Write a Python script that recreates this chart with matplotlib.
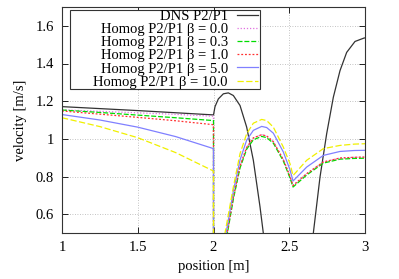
import matplotlib
matplotlib.use("Agg")
import matplotlib.pyplot as plt
from matplotlib.patches import Rectangle

plt.rcParams.update({"font.family": ["Liberation Serif", "DejaVu Serif"], "font.size": 10.5})

# DNS reference
dns_x = [1.0, 1.5, 2.0, 2.01, 2.032, 2.065, 2.098, 2.131, 2.175, 2.219, 2.263, 2.307, 2.329,
         2.36, 2.5, 2.63, 2.659, 2.703, 2.747, 2.791, 2.835, 2.879, 2.934, 2.993, 3.0]
dns_y = [1.171, 1.150, 1.127, 1.171, 1.212, 1.239, 1.244, 1.230, 1.177, 1.062, 0.886, 0.639, 0.498,
         0.35, 0.10, 0.35, 0.500, 0.797, 1.027, 1.221, 1.362, 1.459, 1.517, 1.535, 1.536]

# homogenised models: left part, drop at x=2, then right part
hx = [1.0, 1.25, 1.5, 1.75, 2.0, 2.0, None, 2.131, 2.175, 2.219, 2.263, 2.318, 2.351, 2.395,
      2.461, 2.505, 2.525, 2.615, 2.725, 2.835, 2.93, 3.0]

b00 = [1.154, 1.146, 1.138, 1.130, 1.120, 0.40, 0.50, 0.690, 0.855, 0.955, 1.005, 1.022, 1.015, 0.985,
       0.890, 0.800, 0.752, 0.815, 0.877, 0.898, 0.902, 0.903]
b03 = [1.153, 1.140, 1.126, 1.112, 1.097, 0.40, 0.50, 0.680, 0.845, 0.945, 0.995, 1.013, 1.006, 0.977,
       0.882, 0.792, 0.744, 0.808, 0.871, 0.892, 0.896, 0.897]
b10 = [1.148, 1.131, 1.114, 1.096, 1.075, 0.40, 0.50, 0.690, 0.855, 0.955, 1.005, 1.022, 1.015, 0.985,
       0.890, 0.800, 0.752, 0.815, 0.877, 0.898, 0.902, 0.903]
b50 = [1.129, 1.100, 1.062, 1.012, 0.948, 0.40, 0.50, 0.722, 0.888, 0.993, 1.045, 1.066, 1.060, 1.030,
       0.930, 0.835, 0.776, 0.850, 0.912, 0.933, 0.938, 0.939]
b100 = [1.112, 1.065, 1.006, 0.927, 0.829, 0.40, 0.50, 0.744, 0.921, 1.027, 1.083, 1.103, 1.097, 1.062,
        0.956, 0.868, 0.805, 0.886, 0.948, 0.965, 0.972, 0.974]
# x where each homog curve re-enters the plot from below
restart = {"0.0": 2.09, "0.3": 2.092, "1.0": 2.09, "5.0": 2.083, "10.0": 2.076}

series = [
    ("0.0", b00, "#e070e0", (0, (1, 1.5))),
    ("0.3", b03, "#00dd00", (0, (4, 1.5))),
    ("1.0", b10, "#ff3030", (0, (1.5, 1.5))),
    ("5.0", b50, "#8080ff", "-"),
    ("10.0", b100, "#f0f000", (0, (5, 2))),
]

W, H = 303, 226  # axes size in px
fig = plt.figure(figsize=(3.99, 2.79), dpi=100)
ax = fig.add_axes([62 / 399, 1 - 233 / 279, W / 399, H / 279])

ax.plot(dns_x, dns_y, color="#333333", lw=0.9, label="DNS P2/P1")
for beta, ys, col, ls in series:
    xs = [restart[beta] if v is None else v for v in hx]
    ax.plot(xs, ys, color=col, lw=0.9, ls=ls, label=f"Homog P2/P1 β = {beta}")

ax.set_xlim(1, 3)
ax.set_ylim(0.5, 1.7)
ax.set_xticks([1, 1.5, 2, 2.5, 3])
ax.set_xticklabels(["1", "1.5", "2", "2.5", "3"])
ax.set_yticks([0.6, 0.8, 1.0, 1.2, 1.4, 1.6])
ax.set_yticklabels(["0.6", "0.8", "1", "1.2", "1.4", "1.6"])
ax.tick_params(direction="in", top=True, right=True, length=4, width=0.6, pad=6)
ax.grid(True, color="#b0b0b0", ls=(0, (1, 2)), lw=0.6)
for s in ax.spines.values():
    s.set_linewidth(0.8)
    s.set_color("#333333")
ax.set_xlabel("position [m]", labelpad=4)
ax.set_ylabel("velocity [m/s]", labelpad=6)

# gnuplot-like key: box wider than its content, entries right aligned
box = Rectangle((8 / W, 144 / H), 190 / W, 79 / H, transform=ax.transAxes,
                facecolor="white", edgecolor="#333333", lw=0.8, zorder=4)
ax.add_patch(box)
leg = ax.legend(loc="upper right", bbox_to_anchor=(196 / W, 223.5 / H), markerfirst=False,
                frameon=False, fontsize=10.5, handlelength=1.45, handletextpad=0.62,
                labelspacing=0.0, borderpad=0, borderaxespad=0)
leg.set_zorder(5)
leg._legend_box.align = "right"

fig.savefig("out.png", dpi=100)
